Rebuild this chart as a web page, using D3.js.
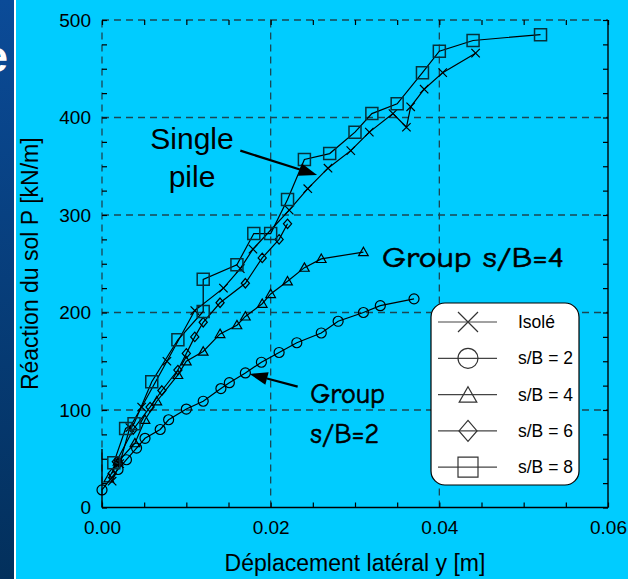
<!DOCTYPE html>
<html>
<head>
<meta charset="utf-8">
<script src="https://cdn.jsdelivr.net/npm/d3@7"></script>
<style>
  html, body { margin: 0; padding: 0; background: #00ccff; }
  svg { display: block; }
</style>
</head>
<body>
<svg id="chart" width="628" height="579"></svg>
<script>
// Lateral soil reaction P versus lateral displacement y, single pile and pile groups
const xTicks = [0, 0.02, 0.04, 0.06];
const yTicks = [0, 100, 200, 300, 400, 500];

const isole = [[0.0012,27],[0.0021,45],[0.0033,82],[0.0047,103],[0.0077,150],[0.0110,202],[0.0144,225],
  [0.0164,245],[0.0179,265],[0.0222,305],[0.0244,327],[0.0268,348],[0.0295,366],[0.0317,385],
  [0.0345,404],[0.0361,390],[0.0366,411],[0.0382,429],[0.0404,446],[0.0443,466]];
const sb2 = [[0,18],[0.0019,39],[0.0029,49],[0.0041,61],[0.0051,71],[0.0069,80],[0.0079,90],[0.0100,101],
  [0.0120,109],[0.0141,122],[0.0151,128],[0.0170,138],[0.0189,149],[0.0210,159],[0.0231,169],
  [0.0260,179],[0.0280,191],[0.0310,200],[0.0330,207],[0.0370,214]];
const sb4 = [[0.0008,30],[0.0019,47],[0.0039,66],[0.0051,90],[0.0065,109],[0.0090,136],[0.0100,150],
  [0.0120,160],[0.0140,178],[0.0160,187],[0.0170,196],[0.0190,209],[0.0200,219],[0.0220,232],
  [0.0240,246],[0.0260,255],[0.0310,262]];
const sb6 = [[0.0012,35],[0.0017,47],[0.0037,80],[0.0057,103],[0.0071,120],[0.0090,141],[0.0100,158],
  [0.0110,175],[0.0120,190],[0.0140,210],[0.0170,230],[0.0190,256],[0.0210,275],[0.0220,291]];
const sb8 = [[0.0014,46],[0.0028,81],[0.0038,86],[0.0059,129],[0.0090,172],[0.0120,201],[0.0120,234],
  [0.0160,249],[0.0180,281],[0.0200,281],[0.0220,316],[0.0240,357],[0.0270,363],[0.0300,385],
  [0.0320,404],[0.0350,414],[0.0380,446],[0.0400,468],[0.0440,479],[0.0520,485]];

const seriesNames = ["Isolé", "s/B = 2", "s/B = 4", "s/B = 6", "s/B = 8"];
const seriesData = [isole, sb2, sb4, sb6, sb8];
const seriesMarkers = ["x", "circle", "triangle", "diamond", "square"];

const svg = d3.select("#chart");
const W = 628, H = 579;
const margin = { left: 102, right: 20, top: 20, bottom: 71.5 };

// side band of the slide
const defs = svg.append("defs");
const grad = defs.append("linearGradient").attr("id", "band").attr("x1", 0).attr("y1", 0).attr("x2", 0).attr("y2", 1);
grad.append("stop").attr("offset", "0%").attr("stop-color", "#0b4b98");
grad.append("stop").attr("offset", "100%").attr("stop-color", "#03305c");
svg.append("rect").attr("x", 0).attr("y", 0).attr("width", W).attr("height", H).attr("fill", "#00ccff");
svg.append("rect").attr("x", 0).attr("y", 0).attr("width", 14).attr("height", H).attr("fill", "url(#band)");
svg.append("rect").attr("x", 14).attr("y", 0).attr("width", 2).attr("height", H).attr("fill", "#ffffff");
defs.append("clipPath").attr("id", "bandClip").append("rect").attr("x", 0).attr("y", 0).attr("width", 14).attr("height", H);
svg.append("text").attr("clip-path", "url(#bandClip)")
  .attr("x", 8).attr("y", 72).attr("text-anchor", "end")
  .attr("font-family", "Liberation Sans, Arial, sans-serif").attr("font-weight", "bold")
  .attr("font-size", 44).attr("fill", "#ffffff").text("e");

const x = d3.scaleLinear().domain([0, 0.06]).range([margin.left, W - margin.right]);
const y = d3.scaleLinear().domain([0, 500]).range([H - margin.bottom, margin.top]);

const x0 = x.range()[0], x1 = x.range()[1], y0 = y.range()[0], y1 = y.range()[1];
const gridColor = "#1b4653";

// dashed grid
const grid = svg.append("g").attr("stroke", gridColor).attr("stroke-width", 1.3).attr("stroke-dasharray", "7,5");
xTicks.filter(v => v > 0 && v < 0.06).forEach(v => {
  grid.append("line").attr("x1", x(v)).attr("x2", x(v)).attr("y1", y0).attr("y2", y1);
});
yTicks.filter(v => v > 0 && v < 500).forEach(v => {
  grid.append("line").attr("x1", x0).attr("x2", x1).attr("y1", y(v)).attr("y2", y(v));
});
// frame: left and top dashed, bottom and right solid
grid.append("line").attr("x1", x0).attr("x2", x0).attr("y1", y0).attr("y2", y1);
grid.append("line").attr("x1", x0).attr("x2", x1).attr("y1", y1).attr("y2", y1);
svg.append("line").attr("x1", x0).attr("x2", x1).attr("y1", y0).attr("y2", y0).attr("stroke", "#000").attr("stroke-width", 1.4);
svg.append("line").attr("x1", x1).attr("x2", x1).attr("y1", y0).attr("y2", y1).attr("stroke", "#000").attr("stroke-width", 1.4);
svg.append("line").attr("x1", x0).attr("x2", x0).attr("y1", y0).attr("y2", y(60)).attr("stroke", "#000").attr("stroke-width", 1.4);

const font = "'Liberation Sans', Arial, sans-serif";
const xMinor = d3.range(0, 0.06001, 0.005);
const yMinor = d3.range(0, 501, 25);
const isMajorX = v => xTicks.some(t => Math.abs(t - v) < 1e-9);
const isMajorY = v => yTicks.includes(v);

function styleAxis(g) {
  g.select(".domain").remove();
  g.selectAll(".tick line").attr("stroke", "#000").attr("stroke-width", 1.2);
  g.selectAll(".tick text").attr("font-family", font).attr("font-size", 19).attr("fill", "#000");
}

svg.append("g").attr("transform", `translate(0,${y0})`)
  .call(d3.axisBottom(x).tickValues(xMinor).tickSize(-5).tickPadding(13)
    .tickFormat(v => isMajorX(v) ? d3.format(".2f")(v) : ""))
  .call(styleAxis);
svg.append("g").attr("transform", `translate(0,${y1})`)
  .call(d3.axisTop(x).tickValues(xMinor).tickSize(-5).tickFormat(""))
  .call(styleAxis);
svg.append("g").attr("transform", `translate(${x0},0)`)
  .call(d3.axisLeft(y).tickValues(yMinor).tickSize(-5).tickPadding(11)
    .tickFormat(v => isMajorY(v) ? String(v) : ""))
  .call(styleAxis);
svg.append("g").attr("transform", `translate(${x1},0)`)
  .call(d3.axisRight(y).tickValues(yMinor).tickSize(-5).tickFormat(""))
  .call(styleAxis);

// axis titles
svg.append("text").attr("x", (x0 + x1) / 2).attr("y", 571).attr("text-anchor", "middle")
  .attr("font-family", font).attr("font-size", 23).attr("fill", "#000")
  .text("Déplacement latéral y [m]");
svg.append("text").attr("transform", `translate(38,${(y0 + y1) / 2}) rotate(-90)`).attr("text-anchor", "middle")
  .attr("font-family", font).attr("font-size", 23).attr("fill", "#000")
  .text("Réaction du sol P [kN/m]");

// marker shapes
function markerPath(type, s) {
  switch (type) {
    case "x": return `M${-s},${-s}L${s},${s}M${-s},${s}L${s},${-s}`;
    case "circle": return `M${s},0A${s},${s},0,1,1,${-s},0A${s},${s},0,1,1,${s},0Z`;
    case "triangle": return `M0,${-s}L${s},${s * 0.75}L${-s},${s * 0.75}Z`;
    case "diamond": return `M0,${-s * 1.1}L${s * 0.95},0L0,${s * 1.1}L${-s * 0.95},0Z`;
    case "square": return `M${-s},${-s}H${s}V${s}H${-s}Z`;
  }
}
const plotSize = { x: 4.2, circle: 5, triangle: 4.8, diamond: 4.3, square: 6 };
const legendSize = { x: 10, circle: 10, triangle: 8.8, diamond: 9.5, square: 10 };

const line = d3.line().x(d => x(d[0])).y(d => y(d[1]));
seriesData.forEach((data, i) => {
  const g = svg.append("g");
  g.append("path").attr("d", line(data)).attr("fill", "none").attr("stroke", "#000").attr("stroke-width", 1.2);
  g.selectAll("path.m").data(data).join("path").attr("class", "m")
    .attr("transform", d => `translate(${x(d[0])},${y(d[1])})`)
    .attr("d", markerPath(seriesMarkers[i], plotSize[seriesMarkers[i]]))
    .attr("fill", "none").attr("stroke", seriesMarkers[i] === "square" ? "#06303a" : "#000")
    .attr("stroke-width", seriesMarkers[i] === "square" ? 1.5 : 1.2);
});

// annotations
function arrow(from, to, head, half) {
  const [ax, ay] = [x(from[0]), y(from[1])];
  const [bx, by] = [x(to[0]), y(to[1])];
  const len = Math.hypot(bx - ax, by - ay), ux = (bx - ax) / len, uy = (by - ay) / len;
  const cx = bx - ux * head, cy = by - uy * head;
  svg.append("line").attr("x1", ax).attr("y1", ay).attr("x2", cx).attr("y2", cy)
    .attr("stroke", "#000").attr("stroke-width", 2.2);
  svg.append("path")
    .attr("d", `M${bx},${by}L${cx - uy * half},${cy + ux * half}L${cx + uy * half},${cy - ux * half}Z`)
    .attr("fill", "#000");
}
const single = svg.append("text").attr("text-anchor", "middle")
  .attr("font-family", font).attr("font-size", 30).attr("fill", "#000");
single.append("tspan").attr("x", x(0.01067)).attr("y", y(367.5)).text("Single");
single.append("tspan").attr("x", x(0.01067)).attr("y", y(328.5)).text("pile");
arrow([0.0164, 366], [0.0255, 341], 18, 6.5);

const comic = "'Comic Sans MS', 'Comic Neue', 'DejaVu Sans', sans-serif";
svg.append("text").attr("x", x(0.0332)).attr("y", y(246.5))
  .attr("font-family", comic).attr("font-size", 28).attr("fill", "#000")
  .attr("stroke", "#000").attr("stroke-width", 0.6)
  .attr("textLength", 182).attr("lengthAdjust", "spacingAndGlyphs").text("Group s/B=4");
const g2 = svg.append("text").attr("font-family", comic).attr("font-size", 28).attr("fill", "#000")
  .attr("stroke", "#000").attr("stroke-width", 0.6);
g2.append("tspan").attr("x", x(0.0247)).attr("y", y(107)).text("Group");
g2.append("tspan").attr("x", x(0.0247)).attr("y", y(66.5)).text("s/B=2");
arrow([0.0232, 124], [0.0175, 137], 18, 6.5);

// legend
const lg = svg.append("g").attr("transform", "translate(431,303)");
lg.append("rect").attr("width", 148).attr("height", 182).attr("rx", 14).attr("ry", 14)
  .attr("fill", "#ffffff").attr("stroke", "#000").attr("stroke-width", 1.2);
seriesNames.forEach((name, i) => {
  const cy = 19 + i * 36.3;
  const row = lg.append("g").attr("transform", `translate(0,${cy})`);
  row.append("line").attr("x1", 7).attr("x2", 66).attr("y1", 0).attr("y2", 0)
    .attr("stroke", "#444").attr("stroke-width", 1.2);
  row.append("path").attr("transform", `translate(37,${seriesMarkers[i] === "triangle" ? 1 : 0})`)
    .attr("d", markerPath(seriesMarkers[i], legendSize[seriesMarkers[i]]))
    .attr("fill", "none").attr("stroke", "#333").attr("stroke-width", 1.2);
  row.append("text").attr("x", 87).attr("y", 0).attr("dy", "0.35em")
    .attr("font-family", font).attr("font-size", 17.5).attr("fill", "#000").text(name);
});
</script>
</body>
</html>
